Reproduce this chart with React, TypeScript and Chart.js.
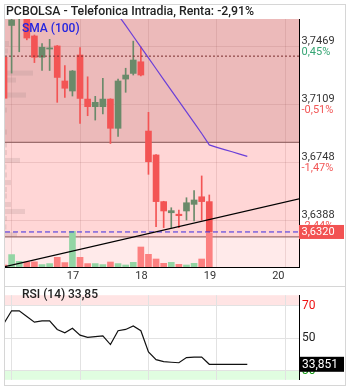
import React, { useEffect, useRef } from 'react';
import { Chart, registerables } from 'chart.js';

Chart.register(...registerables);

// ---------- texts ----------
const TITLE = 'PCBOLSA - Telefonica Intradia, Renta: -2,91%';
const SMA_LABEL = 'SMA (100)';
const RSI_LABEL = 'RSI (14)';
const RSI_LAST_TEXT = '33,85';
const RSI_BOX_TEXT = '33,851';

// ---------- x axis (hourly candles, 9 per day) ----------
const DAY_TICKS = [1, 10, 19, 28, 37];
const DAY_LABELS = ['', '17', '18', '19', '20'];
const X_MIN = 0.13;
const X_MAX = 38.8;

// ---------- candles ----------
const OPENS = [3.7402, 3.7599, 3.7650, 3.7700, 3.7534, 3.7402, 3.7453, 3.7472, 3.7255, 3.7193,
  3.7416, 3.7143, 3.7096, 3.7096, 3.7143, 3.6962, 3.7267, 3.7302, 3.7374,
  3.6945, 3.6797, 3.6508, 3.6439, 3.6430, 3.6450, 3.6491, 3.6538, 3.6508];
const HIGHS = [3.7410, 3.7680, 3.7720, 3.7710, 3.7540, 3.7487, 3.7513, 3.7475, 3.7351, 3.7320,
  3.7462, 3.7281, 3.7160, 3.7272, 3.7145, 3.7267, 3.7334, 3.7502, 3.7467,
  3.7061, 3.6800, 3.6510, 3.6470, 3.6456, 3.6532, 3.6576, 3.6667, 3.6549];
const LOWS = [3.7140, 3.7304, 3.7436, 3.7510, 3.7369, 3.7320, 3.7320, 3.7123, 3.7153, 3.7162,
  3.6993, 3.7040, 3.7013, 3.7051, 3.6868, 3.6912, 3.7185, 3.7292, 3.7286,
  3.6677, 3.6353, 3.6347, 3.6347, 3.6347, 3.6394, 3.6388, 3.6394, 3.6320];
const CLOSES = [3.7148, 3.7633, 3.7700, 3.7521, 3.7402, 3.7464, 3.7460, 3.7277, 3.7210, 3.7317,
  3.7147, 3.7096, 3.7123, 3.7143, 3.6962, 3.7255, 3.7292, 3.7385, 3.7292,
  3.6755, 3.6508, 3.6450, 3.6452, 3.6421, 3.6501, 3.6518, 3.6508, 3.6320];
const VOLUMES = [20000, 124000, 57000, 50000, 52000, 24000, 34000, 97000, 44000, 357000,
  97000, 34000, 34000, 24000, 50000, 34000, 20000, 47000, 200000,
  127000, 80000, 37000, 47000, 27000, 20000, 37000, 80000, 340000];
const VOLUME_AXIS_MAX = 2480000;

// ---------- SMA (100) ----------
const SMA_START = 15;
const SMA_VALUES = [3.7665, 3.7599, 3.7532, 3.7465, 3.7398, 3.7331, 3.7264, 3.7197, 3.7130,
  3.7064, 3.6997, 3.6930, 3.6859, 3.6844, 3.6830, 3.6817, 3.6802, 3.6788];

// ---------- trend line ----------
const TREND_X = [0, 39];
const TREND_Y = [3.6104, 3.6527];

// ---------- price axis ----------
const PRICE_MIN = 3.6103;
const PRICE_MAX = 3.7639;
const PRICE_TICKS = [3.6388, 3.6748, 3.7109, 3.7469];
const PRICE_LABELS = ['3,6388', '3,6748', '3,7109', '3,7469'];
const PCT_LABELS = ['-2,44%', '-1,47%', '-0,51%', '0,45%'];
const LAST_PRICE = 3.632;
const LAST_PRICE_LABEL = '3,6320';
const PREV_CLOSE = 3.7409;
const ZONE_UPPER = 3.6875;
const ZONE_LOWER = 3.6289;

// ---------- volume profile ----------
const VP_PRICES = [3.7487, 3.7441, 3.7304, 3.7261, 3.7168, 3.7075, 3.6939, 3.6859, 3.6812, 3.6763,
  3.6722, 3.6673, 3.6626, 3.6583, 3.6543, 3.6490, 3.6447, 3.6403, 3.6351, 3.6304];
const VP_VOLUMES = [40000, 30000, 280000, 110000, 210000, 20000, 20000, 20000, 20000, 150000,
  15000, 20000, 60000, 20000, 20000, 60000, 200000, 20000, 15000, 120000];
const VP_AXIS_MAX = 2940000;
const VP_BIN_HALF = 0.00155;

// ---------- RSI ----------
const RSI_VALUES = [59.2, 66.8, 66.8, 63.3, 59.8, 60.6, 60.6, 55.3, 53.2, 56.0, 51.8, 50.4, 50.9,
  51.4, 46.0, 54.5, 55.3, 57.4, 54.5, 41.5, 36.7, 35.5, 35.1, 34.8, 38.0, 38.3, 38.3, 33.85,
  33.85, 33.85, 33.85, 33.85, 33.85];
const RSI_LAST = 33.85;
const RSI_TICKS = [30, 50, 70];
const RSI_MIN = 24.3;
const RSI_MAX = 76.4;

const FONT = 'Roboto, "Noto Sans", sans-serif';
const RED = '#f35454';
const GREEN = '#6a8a6a';
const VOL_RED = '#fc8080';
const VOL_GREEN = '#93d5a4';

function MainChart() {
  const ref = useRef<HTMLCanvasElement>(null);
  useEffect(() => {
    const idx = OPENS.map((_, i) => i);
    const colors = idx.map(i => (CLOSES[i] >= OPENS[i] ? GREEN : RED));
    const volColors = idx.map(i => (CLOSES[i] >= OPENS[i] ? VOL_GREEN : VOL_RED));

    const deco = {
      id: 'deco',
      beforeDraw(chart: any) {
        const { ctx, chartArea: a, scales } = chart;
        const y = scales.y;
        const yu = y.getPixelForValue(ZONE_UPPER);
        const yl = y.getPixelForValue(ZONE_LOWER);
        ctx.save();
        ctx.fillStyle = '#ecbaba';
        ctx.fillRect(a.left, a.top, a.right - a.left, yu - a.top);
        ctx.fillStyle = '#ffd6d6';
        ctx.fillRect(a.left, yu, a.right - a.left, yl - yu);
        ctx.fillStyle = '#ffeaea';
        ctx.fillRect(a.left, yl, a.right - a.left, a.bottom - yl);
        ctx.restore();
      },
      beforeDatasetsDraw(chart: any) {
        const { ctx, chartArea: a, scales } = chart;
        const y = scales.y;
        const xvp = scales.xvp;
        ctx.save();
        ctx.fillStyle = 'rgba(165,135,135,0.22)';
        VP_PRICES.forEach((p, k) => {
          const t = y.getPixelForValue(p + VP_BIN_HALF);
          const b = y.getPixelForValue(p - VP_BIN_HALF);
          const x0 = xvp.getPixelForValue(0);
          const x1 = xvp.getPixelForValue(VP_VOLUMES[k]);
          ctx.fillRect(x0, t, x1 - x0, b - t);
        });
        ctx.strokeStyle = 'rgba(140,90,90,0.85)';
        ctx.lineWidth = 1.2;
        [ZONE_UPPER, ZONE_LOWER].forEach(v => {
          const py = y.getPixelForValue(v);
          ctx.beginPath();
          ctx.moveTo(a.left, py);
          ctx.lineTo(a.right, py);
          ctx.stroke();
        });
        ctx.restore();
      },
      afterDraw(chart: any) {
        const { ctx, chartArea: a, scales } = chart;
        const y = scales.y;
        ctx.save();
        ctx.textBaseline = 'middle';
        ctx.textAlign = 'left';
        ctx.font = `500 12.3px ${FONT}`;
        ctx.fillStyle = '#222';
        ctx.fillText(TITLE, 6, 12);
        ctx.font = `500 12px ${FONT}`;
        ctx.fillStyle = '#2424e0';
        ctx.fillText(SMA_LABEL, 22, 29);
        ctx.font = `11px ${FONT}`;
        PRICE_TICKS.forEach((v, k) => {
          const py = y.getPixelForValue(v);
          ctx.fillStyle = '#333';
          ctx.fillText(PRICE_LABELS[k], a.right + 2.5, py - 5.5);
          ctx.fillStyle = PCT_LABELS[k].startsWith('-') ? '#f25656' : '#36a574';
          ctx.fillText(PCT_LABELS[k], a.right + 2.5, py + 5.5);
        });
        const ly = y.getPixelForValue(LAST_PRICE);
        ctx.fillStyle = '#f25252';
        ctx.fillRect(a.right, ly - 7, 45, 14);
        ctx.fillStyle = '#fff';
        ctx.fillText(LAST_PRICE_LABEL, a.right + 2.5, ly + 0.5);
        ctx.restore();
      },
    };

    const chart = new Chart(ref.current as HTMLCanvasElement, {
      type: 'bar',
      data: {
        datasets: [
          {
            type: 'line', label: 'trend',
            data: TREND_X.map((x, k) => ({ x, y: TREND_Y[k] })),
            borderColor: '#000', borderWidth: 1.3, pointRadius: 0, clip: 0, order: 0,
          } as any,
          {
            type: 'line', label: 'sma',
            data: SMA_VALUES.map((v, k) => ({ x: SMA_START + k, y: v })),
            borderColor: '#6b3fd8', borderWidth: 1.2, pointRadius: 0, clip: 0, order: 1,
          },
          {
            type: 'line', label: 'last',
            data: [{ x: X_MIN, y: LAST_PRICE }, { x: X_MAX, y: LAST_PRICE }],
            borderColor: '#3a2be0', borderDash: [5, 3], borderWidth: 1, pointRadius: 0, clip: 0, order: 2,
          },
          {
            type: 'line', label: 'prev',
            data: [{ x: X_MIN, y: PREV_CLOSE }, { x: X_MAX, y: PREV_CLOSE }],
            borderColor: '#7a2e2e', borderDash: [2, 2], borderWidth: 1, pointRadius: 0, clip: 0, order: 3,
          },
          {
            type: 'bar', label: 'body',
            data: idx.map(i => ({ x: i, y: [OPENS[i], CLOSES[i]] })),
            backgroundColor: colors, barThickness: 6, grouped: false, minBarLength: 1, clip: 0, order: 4,
          },
          {
            type: 'bar', label: 'wick',
            data: idx.map(i => ({ x: i, y: [LOWS[i], HIGHS[i]] })),
            backgroundColor: colors, barThickness: 1, grouped: false, clip: 0, order: 5,
          },
          {
            type: 'bar', label: 'volume', yAxisID: 'yv',
            data: idx.map(i => ({ x: i, y: VOLUMES[i] })),
            backgroundColor: volColors, barThickness: 6, grouped: false, clip: 0, order: 6,
          },
        ] as any,
      },
      options: {
        responsive: false,
        animation: false,
        events: [],
        layout: { padding: { left: 5, top: 19, right: 0, bottom: 0 }, autoPadding: false } as any,
        plugins: { legend: { display: false }, tooltip: { enabled: false } },
        scales: {
          x: {
            type: 'linear', min: X_MIN, max: X_MAX, offset: false,
            afterBuildTicks: (s: any) => { s.ticks = DAY_TICKS.map(v => ({ value: v })); },
            afterFit: (s: any) => { s.height = 18; },
            ticks: {
              autoSkip: false, maxRotation: 0, padding: 3, labelOffset: -7, color: '#333',
              font: { family: FONT, size: 11 },
              callback: (_v: any, i: number) => DAY_LABELS[i],
            },
            grid: { color: 'rgba(150,90,90,0.16)', drawTicks: false, offset: false },
            border: { display: true, color: '#000', width: 1 },
          },
          y: {
            type: 'linear', position: 'right', min: PRICE_MIN, max: PRICE_MAX, beginAtZero: false, offset: false,
            afterBuildTicks: (s: any) => { s.ticks = PRICE_TICKS.map(v => ({ value: v })); },
            afterFit: (s: any) => { s.width = 54; },
            ticks: { display: false },
            grid: { color: 'rgba(150,90,90,0.16)', drawTicks: false, offset: false },
            border: { display: true, color: '#000', width: 1 },
          },
          yv: { type: 'linear', position: 'left', display: false, offset: false, min: 0, max: VOLUME_AXIS_MAX },
          xvp: { type: 'linear', axis: 'x', position: 'bottom', display: false, offset: false, min: 0, max: VP_AXIS_MAX },
        } as any,
      },
      plugins: [deco],
    });
    return () => chart.destroy();
  }, []);
  return <canvas ref={ref} width={353} height={285} style={{ position: 'absolute', left: 0, top: 0 }} />;
}

function RsiChart() {
  const ref = useRef<HTMLCanvasElement>(null);
  useEffect(() => {
    const deco = {
      id: 'rsideco',
      beforeDraw(chart: any) {
        const { ctx, chartArea: a, scales } = chart;
        const y = scales.y;
        const y70 = y.getPixelForValue(70);
        const y30 = y.getPixelForValue(30);
        ctx.save();
        ctx.fillStyle = '#ffe4e4';
        ctx.fillRect(a.left, a.top, a.right - a.left, y70 - a.top);
        ctx.fillStyle = '#e0fde0';
        ctx.fillRect(a.left, y30, a.right - a.left, a.bottom - y30);
        ctx.strokeStyle = '#d6d6d6';
        ctx.lineWidth = 1;
        ctx.beginPath();
        ctx.moveTo(4, 1.5);
        ctx.lineTo(345, 1.5);
        ctx.stroke();
        ctx.restore();
      },
      afterDraw(chart: any) {
        const { ctx, chartArea: a, scales } = chart;
        const y = scales.y;
        ctx.save();
        ctx.textBaseline = 'middle';
        ctx.textAlign = 'left';
        ctx.font = `500 12px ${FONT}`;
        ctx.fillStyle = '#222';
        ctx.fillText(RSI_LABEL, 22, 10);
        ctx.fillText(RSI_LAST_TEXT, 68, 10);
        const py = y.getPixelForValue(RSI_LAST);
        ctx.fillStyle = '#000';
        ctx.fillRect(a.right, py - 7.5, 45, 15);
        ctx.fillStyle = '#fff';
        ctx.font = `12px ${FONT}`;
        ctx.fillText(RSI_BOX_TEXT, a.right + 3, py + 0.5);
        ctx.restore();
      },
    };
    const chart = new Chart(ref.current as HTMLCanvasElement, {
      type: 'line',
      data: {
        datasets: [{
          label: 'rsi',
          data: RSI_VALUES.map((v, i) => ({ x: i, y: v })),
          borderColor: '#111', borderWidth: 1.2, pointRadius: 0, clip: 0,
        } as any],
      },
      options: {
        responsive: false,
        animation: false,
        events: [],
        layout: { padding: { left: 5, top: 2, right: 0, bottom: 0 }, autoPadding: false } as any,
        plugins: { legend: { display: false }, tooltip: { enabled: false } },
        scales: {
          x: {
            type: 'linear', min: X_MIN, max: X_MAX, offset: false,
            afterBuildTicks: (s: any) => { s.ticks = DAY_TICKS.map(v => ({ value: v })); },
            afterFit: (s: any) => { s.height = 5; },
            ticks: { display: false },
            grid: { color: '#e2e2e2', drawTicks: false },
            border: { display: false },
          },
          y: {
            type: 'linear', position: 'right', min: RSI_MIN, max: RSI_MAX, offset: false,
            afterBuildTicks: (s: any) => { s.ticks = RSI_TICKS.map(v => ({ value: v })); },
            afterFit: (s: any) => { s.width = 54; },
            ticks: {
              padding: 3,
              font: { family: FONT, size: 12 },
              color: (c: any) => (c.tick && c.tick.value === 70 ? '#ee1111' : c.tick && c.tick.value === 30 ? '#119911' : '#222'),
              callback: (v: any) => String(v),
            },
            grid: { color: '#e2e2e2', drawTicks: false },
            border: { display: true, color: '#000', width: 1 },
          },
        } as any,
      },
      plugins: [deco],
    });
    return () => chart.destroy();
  }, []);
  return <canvas ref={ref} width={353} height={105} style={{ position: 'absolute', left: 0, top: 285 }} />;
}

export default function App() {
  return (
    <div style={{ position: 'absolute', left: 0, top: 0, width: 353, height: 390, background: '#fff' }}>
      <div style={{ position: 'absolute', left: 4, top: 4, width: 342, height: 382, border: '1px solid #d6d6d6', boxSizing: 'border-box' }} />
      <MainChart />
      <RsiChart />
    </div>
  );
}
